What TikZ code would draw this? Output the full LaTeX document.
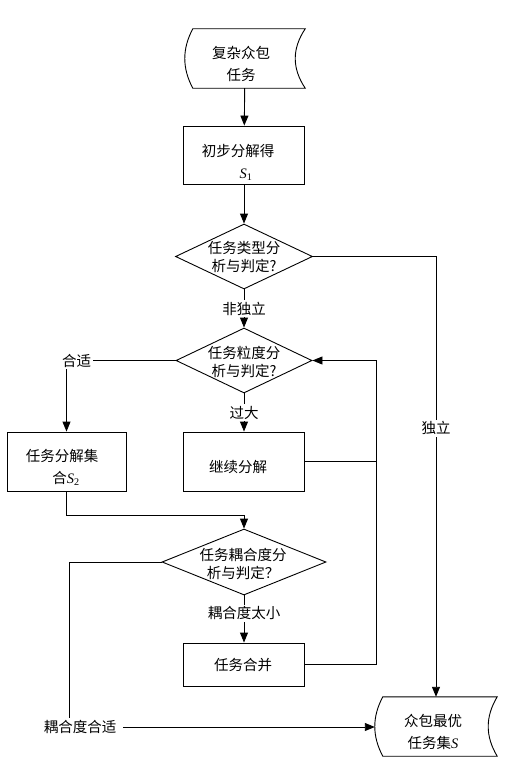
\documentclass[tikz,border=0pt]{standalone}
\usepackage{fontspec}
\newfontfamily\cjk{Noto Sans CJK SC}
\newfontfamily\tms{Liberation Serif}
\newcommand{\iS}[1]{{\tms\itshape S}{\tms\textsubscript{#1}}}
\usetikzlibrary{arrows.meta,shapes.geometric}
\begin{document}
\begin{tikzpicture}[x=1pt,y=-1pt,
  lw/.style={line width=0.9pt},
  arr/.style={lw,-{Triangle[length=10pt,width=8pt]}},
  txt/.style={font=\cjk\fontsize{14.5}{22}\selectfont,align=center,inner sep=2pt},
  dtxt/.style={font=\cjk\fontsize{14.5}{18}\selectfont,align=center,inner sep=0pt},
  box/.style={draw,lw,inner sep=0pt},
  dia/.style={draw,lw,diamond,inner sep=0pt},
  frame/.style={inner sep=0pt},
  lab/.style={txt,fill=white,inner sep=2pt}]
\useasboundingbox (0,0) rectangle (522,768);

% start (stored data)
\node[frame,minimum width=120pt,minimum height=59pt] (src) at (245,58.5) {};
\draw[lw] ([xshift=8pt]src.north west) -- (src.north east)
  .. controls +(-13.3,20) and +(-13.3,-20) .. (src.south east)
  -- ([xshift=8pt]src.south west)
  .. controls +(-10.7,-20) and +(-10.7,20) .. cycle;
\node[txt] (srct) at (241,63.5) {复杂众包\\任务};

\node[box,minimum width=121pt,minimum height=58pt] (b1) at (244,155) {};
\node[txt] (b1t) at (238,162) {初步分解得\\\hspace*{16pt}\iS{1}};

\node[dia,minimum width=137pt,minimum height=65pt] (d1) at (244,256.5) {};
\node[dtxt] (d1t) at (244,257.5) {任务类型分\\析与判定?};

\node[dia,minimum width=136pt,minimum height=65pt] (d2) at (244,360.5) {};
\node[dtxt] (d2t) at (244,362) {任务粒度分\\析与判定?};

\node[box,minimum width=119pt,minimum height=59pt] (s2) at (66.5,461.5) {};
\node[txt] (s2t) at (62,467) {任务分解集\\\hspace*{8pt}合\iS{2}};
\node[box,minimum width=121pt,minimum height=59pt] (k) at (244,461.5) {};
\node[txt] (kt) at (238,467) {继续分解};

\node[dia,minimum width=164pt,minimum height=66pt] (d3) at (244,562) {};
\node[dtxt] (d3t) at (243,563.5) {任务耦合度分\\析与判定？};

\node[box,minimum width=121pt,minimum height=43pt] (m) at (244,664.5) {};
\node[txt] (mt) at (243,665) {任务合并};

% end (stored data)
\node[frame,minimum width=122pt,minimum height=59pt] (fin) at (436,726.5) {};
\draw[lw] ([xshift=8pt]fin.north west) -- (fin.north east)
  .. controls +(-12,20) and +(-12,-20) .. (fin.south east)
  -- ([xshift=8pt]fin.south west)
  .. controls +(-10.7,-20) and +(-10.7,20) .. cycle;
\node[txt] (fint) at (433,732) {众包最优\\任务集{\tms\itshape S}};

\node[txt] (lc) at (80,727) {耦合度合适};
\coordinate (r) at (376,664.5);

% connectors
\draw[arr] (src) -- (b1);
\draw[arr] (b1) -- (d1);
\draw[arr] (d1) -- node[lab]{非独立} (d2);
\draw[arr] (d1.east) -| node[lab,pos=0.695]{独立} (fin.north);
\draw[arr] (d2.west) -| node[lab,pos=0.5,xshift=10pt]{合适} (s2.north);
\draw[arr] (d2) -- node[lab]{过大} (k);
\draw[arr] (s2.south) -- ++(0,24) -| (d3.north);
\draw[arr] (d3) -- node[lab,pos=0.38]{耦合度太小} (m);
\draw[arr] (m.east) -- (r) |- (d2.east);
\draw[lw] (k.east) -- (k.east -| r);
\draw[lw] (d3.west) -| ([xshift=-11pt]lc.north);
\draw[arr,shorten <=5pt] (lc.east) -- (lc.east -| fin.west);
\end{tikzpicture}
\end{document}
